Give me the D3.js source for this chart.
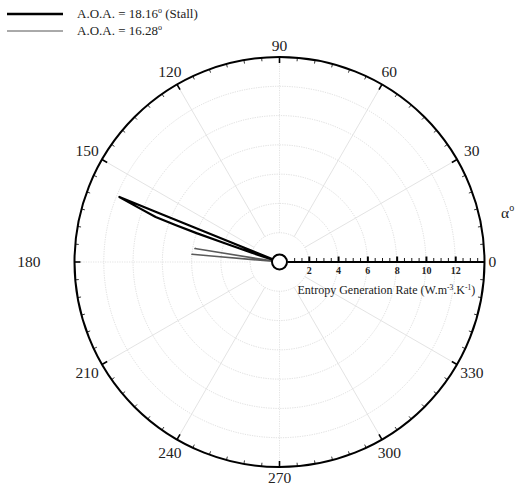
<!DOCTYPE html>
<html>
<head>
<meta charset="utf-8">
<script src="https://cdn.jsdelivr.net/npm/d3@7"></script>
<style>
  body { margin: 0; background: #fff; }
  svg { display: block; font-family: "Liberation Serif", "Times New Roman", serif; }
</style>
</head>
<body>
<div id="chart"></div>
<script>
// stall case (A.O.A. = 18.16) - closed narrow loop
const stallAngle = [157.9, 157.9, 157.9, 157.9, 157.9, 158.8, 160.0, 160.4, 160.8, 161.0, 161.5, 162.0];
const stallRate  = [0.5,   3.0,   6.0,   9.0,   11.8,  10.5,  9.0,   7.5,   6.0,   4.0,   2.0,   0.5];

// A.O.A. = 16.28 - two short rays
const aoaAngle = [171.0, 171.0, 172.5, 175.0, 175.0];
const aoaRate  = [0.3,   5.85,  0.3,   6.0,   0.3];

const angleTicks = [0, 30, 60, 90, 120, 150, 180, 210, 240, 270, 300, 330];
const rateTicks = [2, 4, 6, 8, 10, 12];
const legendLabels = ["A.O.A. = 18.16", "A.O.A. = 16.28"];

const width = 515, height = 488;
const cx = 279.5, cy = 262, R = 205;
const rad = Math.PI / 180;

const svg = d3.select('#chart').append('svg')
    .attr('width', width)
    .attr('height', height);

const r = d3.scaleLinear().domain([0, 14]).range([0, R]);

const g = svg.append('g').attr('transform', `translate(${cx},${cy})`);

// grid circles (dotted)
g.selectAll('.grid')
    .data(rateTicks)
    .enter().append('circle')
    .attr('r', d => r(d))
    .attr('fill', 'none')
    .attr('stroke', '#d4d4d4')
    .attr('stroke-width', 0.8)
    .attr('stroke-dasharray', '1.2,1.2');

// spokes every 30 deg
g.selectAll('.spoke')
    .data(angleTicks)
    .enter().append('line')
    .attr('x1', d => r(2) * Math.cos(d * rad))
    .attr('y1', d => -r(2) * Math.sin(d * rad))
    .attr('x2', d => R * Math.cos(d * rad))
    .attr('y2', d => -R * Math.sin(d * rad))
    .attr('stroke', '#dcdcdc')
    .attr('stroke-width', 0.8)
    .attr('stroke-dasharray', d => (d % 90 === 0 ? '1.2,1.2' : null));

// outer circle
g.append('circle')
    .attr('r', R)
    .attr('fill', 'none')
    .attr('stroke', '#000')
    .attr('stroke-width', 2);

// angular ticks, inward
const angMinor = d3.range(0, 360, 5);
g.selectAll('.atick')
    .data(angMinor)
    .enter().append('line')
    .attr('x1', d => R * Math.cos(d * rad))
    .attr('y1', d => -R * Math.sin(d * rad))
    .attr('x2', d => (R - (d % 30 === 0 ? 6 : 3.5)) * Math.cos(d * rad))
    .attr('y2', d => -(R - (d % 30 === 0 ? 6 : 3.5)) * Math.sin(d * rad))
    .attr('stroke', '#000')
    .attr('stroke-width', d => (d % 30 === 0 ? 1.6 : 0.8));

// angle labels
const labR = d => 216 + 7 * Math.abs(Math.cos(d * rad));
g.selectAll('.alabel')
    .data(angleTicks)
    .enter().append('text')
    .attr('x', d => {
      if (d === 0) return R + 4;
      if (d === 180) return -R - 34;
      return labR(d) * Math.cos(d * rad);
    })
    .attr('y', d => -labR(d) * Math.sin(d * rad))
    .attr('dy', '0.35em')
    .attr('text-anchor', d => (d === 0 ? 'start' : d === 180 ? 'end' : 'middle'))
    .attr('font-size', 15.5)
    .attr('fill', '#222')
    .text(d => d);

// alpha label
const alpha = svg.append('text')
    .attr('x', 501)
    .attr('y', 218)
    .attr('font-size', 15.5)
    .attr('fill', '#222')
    .text('α');
alpha.append('tspan').attr('dy', -7).attr('font-size', 10).text('o');

// radial axis
const axisG = g.append('g');
axisG.append('g')
    .call(d3.axisTop(r).tickValues(d3.range(1, 14, 0.5).filter(v => v % 2 !== 0)).tickSize(4).tickFormat(''))
    .call(s => s.select('.domain').remove())
    .call(s => s.selectAll('line').attr('stroke-width', 0.9));
axisG.append('g')
    .call(d3.axisTop(r).tickValues(rateTicks).tickSize(5.5).tickFormat(''))
    .call(s => s.select('.domain').remove())
    .call(s => s.selectAll('line').attr('stroke-width', 2));
axisG.append('g')
    .call(d3.axisBottom(r).tickValues(rateTicks).tickSize(0).tickPadding(5))
    .call(s => s.select('.domain').remove())
    .call(s => s.selectAll('text')
        .attr('font-family', '"Liberation Serif", serif')
        .attr('font-size', 10)
        .attr('font-weight', 'bold')
        .attr('fill', '#222'));
axisG.append('line')
    .attr('x1', 8).attr('x2', R)
    .attr('stroke', '#000')
    .attr('stroke-width', 2);

const title = g.append('text')
    .attr('x', 18)
    .attr('y', 32)
    .attr('font-size', 12)
    .attr('fill', '#222')
    .text('Entropy Generation Rate (W.m');
title.append('tspan').attr('dy', -4.5).attr('font-size', 7.5).text('-3');
title.append('tspan').attr('dy', 4.5).text('.K');
title.append('tspan').attr('dy', -4.5).attr('font-size', 7.5).text('-1');
title.append('tspan').attr('dy', 4.5).text(')');

// data lines
const line = d3.lineRadial()
    .angle(d => (90 - d[0]) * rad)
    .radius(d => r(d[1]));

g.append('path')
    .datum(d3.zip(aoaAngle, aoaRate))
    .attr('d', line)
    .attr('fill', 'none')
    .attr('stroke', '#5a5a5a')
    .attr('stroke-width', 1.5)
    .attr('stroke-linejoin', 'round');

g.append('path')
    .datum(d3.zip(stallAngle, stallRate).concat([[stallAngle[0], stallRate[0]]]))
    .attr('d', line)
    .attr('fill', 'none')
    .attr('stroke', '#000')
    .attr('stroke-width', 2.2)
    .attr('stroke-linejoin', 'round');

// hole at the centre
g.append('circle')
    .attr('r', 7.5)
    .attr('fill', '#fff')
    .attr('stroke', '#000')
    .attr('stroke-width', 2);

// legend
const legend = svg.append('g');
const legStyles = [{ w: 2.5, c: '#000' }, { w: 1, c: '#555' }];
legendLabels.forEach((lab, i) => {
  const y = 14 + i * 17;
  legend.append('line')
      .attr('x1', 7).attr('x2', 63)
      .attr('y1', y).attr('y2', y)
      .attr('stroke', legStyles[i].c)
      .attr('stroke-width', legStyles[i].w);
  const t = legend.append('text')
      .attr('x', 77)
      .attr('y', y + 4)
      .attr('font-size', 13)
      .attr('fill', '#222')
      .text(lab);
  t.append('tspan').attr('dy', -5).attr('font-size', 8).text('o');
  if (i === 0) t.append('tspan').attr('dy', 5).text(' (Stall)');
});
</script>
</body>
</html>
